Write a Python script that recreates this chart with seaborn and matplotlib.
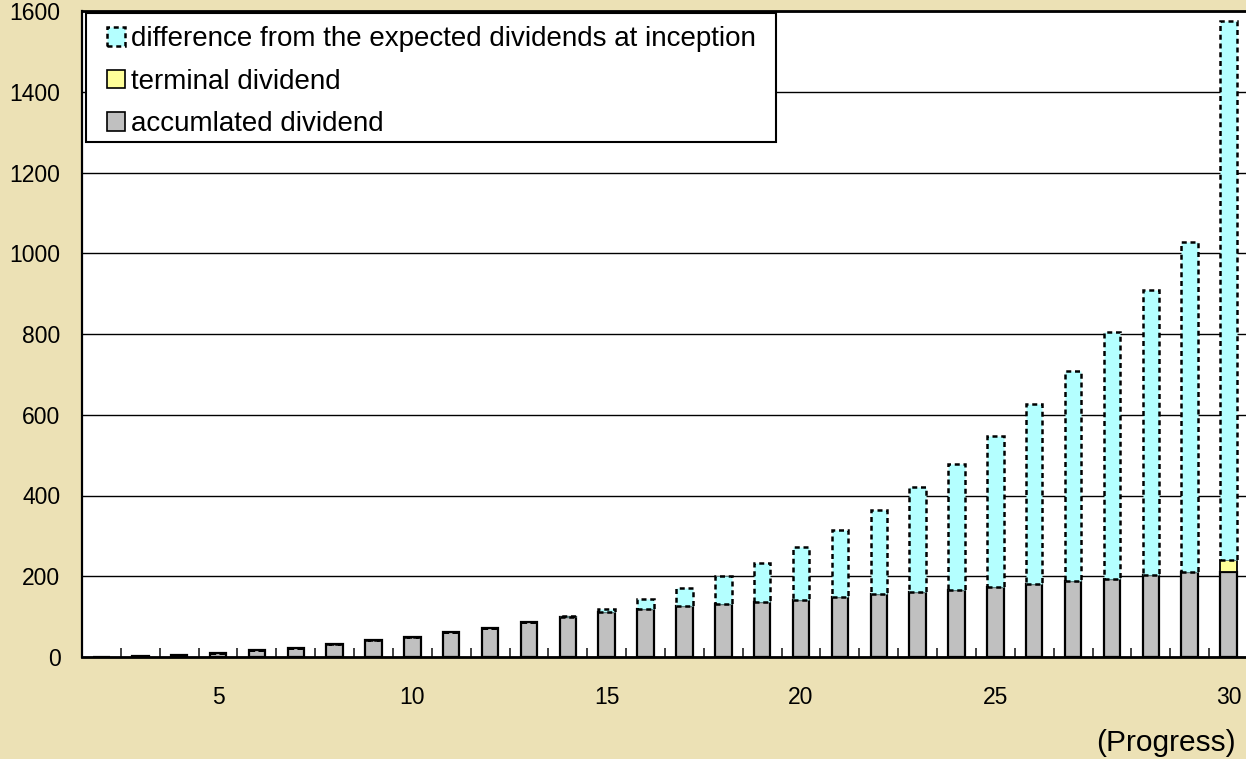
import numpy as np
import pandas as pd
import matplotlib
matplotlib.use("Agg")
import matplotlib.pyplot as plt
import seaborn as sns
from matplotlib.patches import Patch, Rectangle
from matplotlib.ticker import FixedLocator

# ---- data -------------------------------------------------------------
bar_no = list(range(1, 31))
axis_labels = ["", "", "", "5", "", "", "", "", "10", "",
               "", "", "", "15", "", "", "", "", "20", "",
               "", "", "", "25", "", "", "", "", "", "30"]
accumulated = [1, 3, 6, 11, 17, 23, 31, 41, 50, 61,
               73, 87, 100, 112, 120, 126, 131, 136, 141, 148,
               155, 160, 167, 174, 181, 187, 194, 204, 211, 211]
terminal = [0, 0, 0, 0, 0, 0, 0, 0, 0, 0,
            0, 0, 0, 0, 0, 0, 0, 0, 0, 0,
            0, 0, 0, 0, 0, 0, 0, 0, 0, 29]
difference = [0, 0, 0, 0, 0, 0, 0, 0, 0, 0,
              0, 0, 1, 8, 23, 45, 70, 97, 132, 167,
              210, 260, 312, 374, 445, 522, 610, 706, 816, 1335]
y_ticks = [0, 200, 400, 600, 800, 1000, 1200, 1400, 1600]
series_names = ["difference from the expected dividends at inception",
                "terminal dividend",
                "accumlated dividend"]
x_title = "(Progress)"

# ---- styling ----------------------------------------------------------
BG = "#ECE1B5"
CYAN = "#B4FFFF"
YELLOW = "#FFFF99"
GREY = "#C0C0C0"
DASH = (0, (2, 1.5))
TICK_SIZE = 16.5

df = pd.DataFrame({"bar": bar_no, "acc": accumulated,
                   "term": terminal, "diff": difference})
df["lower"] = df["acc"] + df["term"]

sns.set_theme(style="white")
plt.rcParams["font.family"] = ["Liberation Sans", "DejaVu Sans"]

W, H = 1246, 759
fig = plt.figure(figsize=(W / 100, H / 100), dpi=100, facecolor=BG)
ax = fig.add_axes([82 / W, 102 / H, 1166 / W, 646 / H])
ax.set_facecolor("white")

common = dict(x="bar", errorbar=None, saturation=1, width=0.425,
              edgecolor="black", ax=ax)

# stacked layers: accumulated at the base, terminal above, difference on top
sns.barplot(data=df, y="acc", color=GREY, linewidth=1.6, zorder=3, **common)
sns.barplot(data=df, y="term", color=YELLOW, linewidth=1.3,
            bottom=df["acc"].to_numpy(), zorder=3, **common)
sns.barplot(data=df, y="diff", color=CYAN, linewidth=1.8, linestyle=DASH,
            bottom=df["lower"].to_numpy(), zorder=4, **common)

# ---- axes -------------------------------------------------------------
ax.set_xlim(-0.5, len(bar_no) - 0.5)
ax.set_ylim(0, 1600)
ax.set_yticks(y_ticks)
ax.set_yticklabels([str(v) for v in y_ticks], fontsize=TICK_SIZE, color="black")
ax.set_xticks(range(len(bar_no)))
ax.set_xticklabels(axis_labels, fontsize=TICK_SIZE, color="black")
ax.set_xlabel("")
ax.set_ylabel("")

ax.xaxis.set_minor_locator(FixedLocator(np.arange(0.5, len(bar_no) - 1, 1)))
ax.tick_params(axis="x", which="major", length=0, pad=21)
ax.tick_params(axis="x", which="minor", direction="in", length=6.5,
               width=1.3, color="#333333", bottom=True)
ax.tick_params(axis="y", which="major", length=0, pad=15.5)

ax.set_axisbelow(True)
ax.yaxis.grid(True, color="black", linewidth=1.0)
ax.xaxis.grid(False)

for side, lw in (("top", 2.0), ("left", 1.6), ("bottom", 2.0)):
    ax.spines[side].set_visible(True)
    ax.spines[side].set_color("black")
    ax.spines[side].set_linewidth(lw)
ax.spines["right"].set_visible(False)

# ---- legend -----------------------------------------------------------
frame = Rectangle((4 / 1166, (657 - 141.7) / 646), 690 / 1166, 129 / 646,
                  transform=ax.transAxes, facecolor="white",
                  edgecolor="black", linewidth=1.5, zorder=6)
ax.add_patch(frame)

handles = [Patch(facecolor=CYAN, edgecolor="black", linewidth=1.8, linestyle=DASH),
           Patch(facecolor=YELLOW, edgecolor="black", linewidth=1.2),
           Patch(facecolor=GREY, edgecolor="black", linewidth=1.2)]
leg = ax.legend(handles, series_names, loc="upper left",
                bbox_to_anchor=(25 / 1166, (657 - 26) / 646),
                frameon=False, fontsize=20, borderpad=0, borderaxespad=0,
                handlelength=0.65, handleheight=0.65, handletextpad=0.2,
                labelspacing=0.6)
for t in leg.get_texts():
    t.set_color("black")
leg.set_zorder(7)

fig.text(1236 / W, (H - 743) / H, x_title, ha="right", va="center",
         fontsize=21.5, color="black")

fig.savefig("out.png", dpi=100, facecolor=BG)
